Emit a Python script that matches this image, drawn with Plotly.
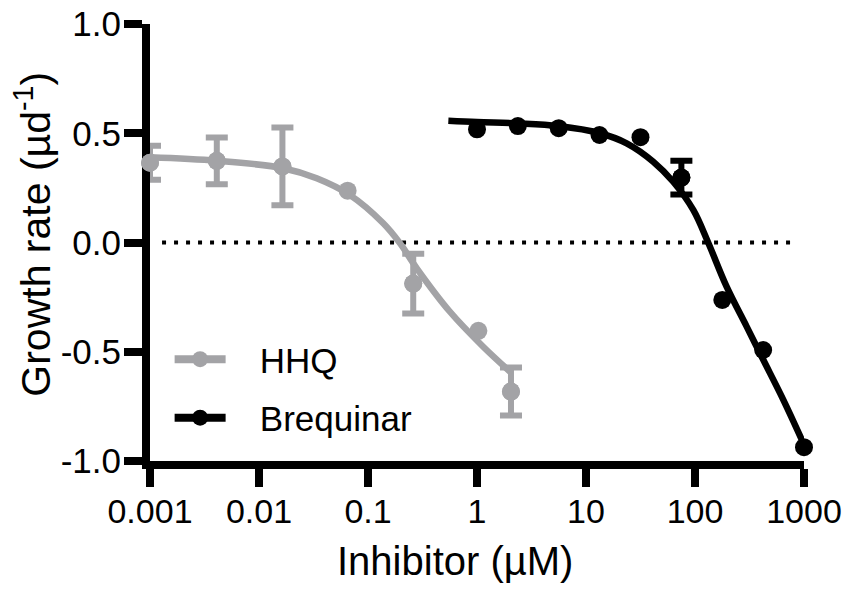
import plotly.graph_objects as go

# HHQ measurements (mean +/- error), inhibitor in uM
hhq_x = [0.001, 0.0041, 0.0164, 0.065, 0.26, 1.03, 2.05]
hhq_y = [0.365, 0.374, 0.348, 0.237, -0.188, -0.404, -0.682]
hhq_err = [0.078, 0.107, 0.178, None, 0.137, None, 0.11]

# HHQ fitted curve
hhq_fit_x = [0.001, 0.0041, 0.0167, 0.0338, 0.0684, 0.138, 0.197, 0.28, 0.565, 1.14, 2.05]
hhq_fit_y = [0.39, 0.374, 0.34, 0.294, 0.217, 0.088, -0.004, -0.118, -0.317, -0.477, -0.595]

# Brequinar measurements
brq_x = [1.0, 2.37, 5.62, 13.3, 31.6, 75.0, 178, 422, 1000]
brq_y = [0.518, 0.533, 0.523, 0.492, 0.482, 0.297, -0.263, -0.492, -0.937]
brq_err = [None, None, None, None, None, 0.077, None, None, None]

# Brequinar fitted curve
brq_fit_x = [0.546, 1.0, 2.39, 5.57, 13.4, 23.6, 41.4, 63.1, 96.4, 132, 195, 298, 424, 646, 1000]
brq_fit_y = [0.557, 0.551, 0.545, 0.533, 0.50, 0.454, 0.37, 0.278, 0.149, 0.0, -0.202, -0.385, -0.538, -0.72, -0.925]

# dotted reference line at zero
zero_x = [0.00129, 793]
zero_y = [0, 0]

x_ticks = [0.001, 0.01, 0.1, 1, 10, 100, 1000]
x_labels = ["0.001", "0.01", "0.1", "1", "10", "100", "1000"]
y_ticks = [-1.0, -0.5, 0.0, 0.5, 1.0]
y_labels = ["-1.0", "-0.5", "0.0", "0.5", "1.0"]

GRAY = "#a3a3a6"
BLACK = "#000000"
FONT = "Liberation Sans, Arial, sans-serif"
GAP = "\u00a0\u00a0\u00a0"  # space between legend symbol and its label


def with_err(xs, ys, errs):
    # keep only the points that actually carry an error bar
    keep = [i for i, e in enumerate(errs) if e is not None]
    return [xs[i] for i in keep], [ys[i] for i in keep], [errs[i] for i in keep]


fig = go.Figure()

fig.add_trace(go.Scatter(x=zero_x, y=zero_y, mode="lines", showlegend=False,
                         line=dict(color=BLACK, width=4, dash="4px,8px"), hoverinfo="skip"))

# fitted curves
fig.add_trace(go.Scatter(x=hhq_fit_x, y=hhq_fit_y, mode="lines", showlegend=False,
                         line=dict(color=GRAY, width=6.5, shape="spline", smoothing=1)))
fig.add_trace(go.Scatter(x=brq_fit_x, y=brq_fit_y, mode="lines", showlegend=False,
                         line=dict(color=BLACK, width=6.5, shape="spline", smoothing=1)))

# error bars
for xs, ys, errs, col in [(hhq_x, hhq_y, hhq_err, GRAY), (brq_x, brq_y, brq_err, BLACK)]:
    ex, ey, ee = with_err(xs, ys, errs)
    fig.add_trace(go.Scatter(x=ex, y=ey, mode="markers", showlegend=False, cliponaxis=False,
                             marker=dict(color=col, size=18),
                             error_y=dict(type="data", array=ee, color=col, thickness=6, width=11)))

# data points
fig.add_trace(go.Scatter(x=hhq_x, y=hhq_y, mode="markers", showlegend=False, cliponaxis=False,
                         marker=dict(color=GRAY, size=18)))
fig.add_trace(go.Scatter(x=brq_x, y=brq_y, mode="markers", showlegend=False, cliponaxis=False,
                         marker=dict(color=BLACK, size=18)))

# legend entries (line + marker)
fig.add_trace(go.Scatter(x=[None], y=[None], mode="lines+markers", name=GAP + "HHQ", legendgroup="hhq",
                         line=dict(color=GRAY, width=8), marker=dict(color=GRAY, size=18)))
fig.add_trace(go.Scatter(x=[None], y=[None], mode="lines+markers", name=GAP + "Brequinar", legendgroup="brq",
                         line=dict(color=BLACK, width=8), marker=dict(color=BLACK, size=18)))

fig.update_xaxes(type="log", range=[-3, 3], tickvals=x_ticks, ticktext=x_labels,
                 showline=True, linewidth=8, linecolor=BLACK, ticks="outside", ticklen=18,
                 tickwidth=8, tickcolor=BLACK, showgrid=False, zeroline=False, automargin=False,
                 ticklabelstandoff=-5, ticklabeloverflow="allow",
                 tickfont=dict(family=FONT, size=34, color=BLACK), layer="below traces")
fig.update_yaxes(range=[-1, 1], tickvals=y_ticks, ticktext=y_labels,
                 showline=True, linewidth=8, linecolor=BLACK, ticks="outside", ticklen=18,
                 tickwidth=8, tickcolor=BLACK, showgrid=False, zeroline=False, automargin=False,
                 ticklabelstandoff=-4, ticklabeloverflow="allow",
                 tickfont=dict(family=FONT, size=35, color=BLACK), layer="below traces")

fig.add_annotation(text="Inhibitor (µM)", xref="paper", yref="paper", x=0.467, y=-0.229,
                   xanchor="center", yanchor="middle", showarrow=False,
                   font=dict(family=FONT, size=40, color=BLACK))
fig.add_annotation(text="Growth rate (µd<sup>-1</sup>)", xref="paper", yref="paper",
                   x=-0.179, y=0.52, xanchor="center", yanchor="middle", textangle=-90,
                   showarrow=False, font=dict(family=FONT, size=41, color=BLACK))

# page body has an 8px margin, so margins are shifted by 8px to keep the plot in place
fig.update_layout(
    width=850, height=597,
    margin=dict(l=142, r=54, t=16, b=144),
    plot_bgcolor="white", paper_bgcolor="white",
    font=dict(family=FONT, color=BLACK),
    legend=dict(x=0.03, y=0.30, xanchor="left", yanchor="top", bgcolor="rgba(0,0,0,0)",
                font=dict(family=FONT, size=35, color=BLACK), tracegroupgap=10,
                itemwidth=51),
)

fig.write_html("out.html")
